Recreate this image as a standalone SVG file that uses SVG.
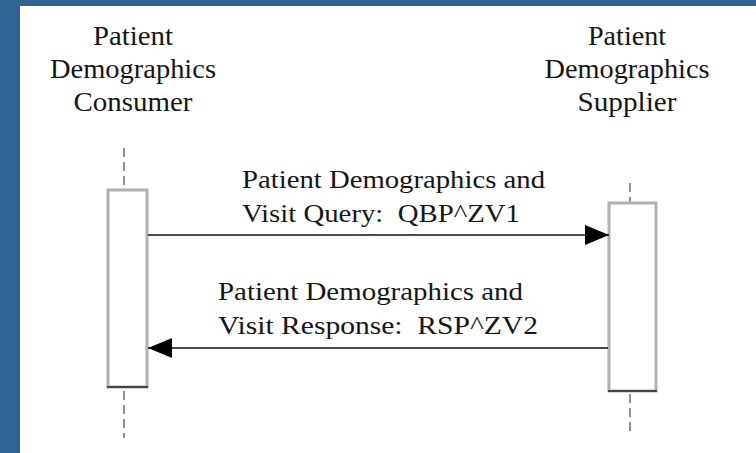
<svg xmlns="http://www.w3.org/2000/svg" width="756" height="453" viewBox="0 0 756 453">
  <style>
    .hdr { font-family: "Liberation Serif", "Times New Roman", serif; font-size: 28px; fill: #151515; text-anchor: middle; }
    .msg { font-family: "Liberation Serif", "Times New Roman", serif; font-size: 26px; fill: #151515; white-space: pre; }
    .life { stroke: #777; stroke-width: 1.6; stroke-dasharray: 9 5; fill: none; }
    .act { fill: #fff; stroke: #b0b0b0; stroke-width: 3; }
    .actbot { stroke: #222; stroke-width: 1.5; }
    .conn { stroke: #111; stroke-width: 1.6; fill: none; }
  </style>
  <defs>
    <marker id="ah" viewBox="0 0 24 20" refX="24" refY="10" markerWidth="24" markerHeight="20" markerUnits="userSpaceOnUse" orient="auto">
      <path d="M0,0 L24,10 L0,20 Z" fill="#000"/>
    </marker>
  </defs>
  <rect x="0" y="0" width="756" height="453" fill="#2F6295"/>
  <rect x="20" y="6" width="736" height="447" fill="#ffffff"/>

  <g id="consumer">
    <text class="hdr" x="133" y="45" textLength="80" lengthAdjust="spacingAndGlyphs">Patient</text>
    <text class="hdr" x="133" y="78" textLength="166" lengthAdjust="spacingAndGlyphs">Demographics</text>
    <text class="hdr" x="133" y="111" textLength="119" lengthAdjust="spacingAndGlyphs">Consumer</text>
    <line class="life" x1="124" y1="148" x2="124" y2="190"/>
    <rect class="act" x="108" y="190" width="39" height="197"/>
    <line class="actbot" x1="107" y1="387" x2="148" y2="387"/>
    <line class="life" x1="124" y1="391" x2="124" y2="438"/>
  </g>

  <g id="supplier">
    <text class="hdr" x="627" y="45" textLength="78" lengthAdjust="spacingAndGlyphs">Patient</text>
    <text class="hdr" x="627" y="78" textLength="165" lengthAdjust="spacingAndGlyphs">Demographics</text>
    <text class="hdr" x="627" y="111" textLength="99" lengthAdjust="spacingAndGlyphs">Supplier</text>
    <line class="life" x1="630" y1="183" x2="630" y2="203"/>
    <rect class="act" x="609" y="203" width="47" height="188"/>
    <line class="actbot" x1="608" y1="391" x2="657" y2="391"/>
    <line class="life" x1="630" y1="394" x2="630" y2="433"/>
  </g>

  <g id="connectors">
    <line class="conn" x1="148" y1="235" x2="609" y2="235" marker-end="url(#ah)"/>
    <line class="conn" x1="608" y1="348" x2="148" y2="348" marker-end="url(#ah)"/>
  </g>

  <g id="labels">
    <text class="msg" x="242" y="188" textLength="303" lengthAdjust="spacingAndGlyphs">Patient Demographics and</text>
    <text class="msg" x="242" y="222" textLength="278" lengthAdjust="spacingAndGlyphs">Visit Query:  QBP^ZV1</text>
    <text class="msg" x="218" y="300" textLength="305" lengthAdjust="spacingAndGlyphs">Patient Demographics and</text>
    <text class="msg" x="218" y="334" textLength="320" lengthAdjust="spacingAndGlyphs">Visit Response:  RSP^ZV2</text>
  </g>
</svg>
